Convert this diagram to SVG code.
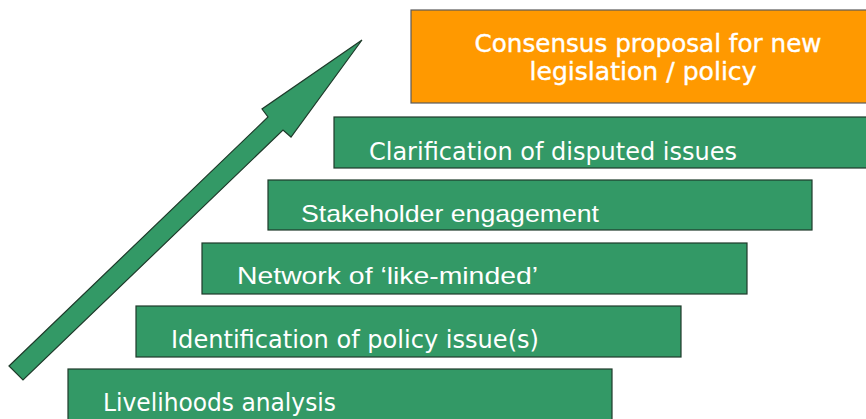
<svg xmlns="http://www.w3.org/2000/svg" width="866" height="419" viewBox="0 0 866 419">
  <style>
    .step { fill: #339966; stroke: #1e3a2a; stroke-width: 1.2; }
    .goal { fill: #ff9900; stroke: #5a5a5a; stroke-width: 1.2; }
    .lbl { fill: #ffffff; font-family: "DejaVu Sans", Verdana, sans-serif; font-size: 24px; }
    .lbl2 { fill: #ffffff; font-family: "Liberation Sans", Arial, sans-serif; font-size: 24px; }
    .goal-lbl { fill: #ffffff; font-family: "DejaVu Sans", Verdana, sans-serif; font-size: 25px; text-anchor: middle; stroke: #ffffff; stroke-width: 0.4; }
  </style>
  <defs>
    <clipPath id="clip-stake"><rect x="268" y="180" width="544" height="50"/></clipPath>
  </defs>
  <rect width="866" height="419" fill="#ffffff"/>

  <g id="connectors">
    <!-- rising progress arrow -->
    <polygon points="9,366 268,117 262,109 362,40 291,137 283,130 23,380" fill="#339966" stroke="#1e3a2a" stroke-width="1.2" stroke-linejoin="miter"/>
  </g>

  <g id="step-livelihoods">
    <rect class="step" x="68" y="369" width="544" height="56"/>
    <text class="lbl" x="103" y="411" textLength="233" lengthAdjust="spacingAndGlyphs">Livelihoods analysis</text>
  </g>

  <g id="step-identification">
    <rect class="step" x="136" y="306" width="545" height="51"/>
    <text class="lbl" x="171" y="348" textLength="368" lengthAdjust="spacingAndGlyphs">Identification of policy issue(s)</text>
  </g>

  <g id="step-network">
    <rect class="step" x="202" y="243" width="545" height="51"/>
    <text class="lbl2" x="237" y="284" textLength="301" lengthAdjust="spacingAndGlyphs">Network of ‘like-minded’</text>
  </g>

  <g id="step-stakeholder">
    <rect class="step" x="268" y="180" width="544" height="50"/>
    <text class="lbl2" x="301" y="222" textLength="298" lengthAdjust="spacingAndGlyphs" clip-path="url(#clip-stake)">Stakeholder engagement</text>
  </g>

  <g id="step-clarification">
    <rect class="step" x="334" y="117" width="540" height="51"/>
    <text class="lbl" x="369" y="160" textLength="368" lengthAdjust="spacingAndGlyphs">Clarification of disputed issues</text>
  </g>

  <g id="goal-consensus">
    <rect class="goal" x="411" y="10" width="460" height="93"/>
    <text class="goal-lbl" x="648" y="52" textLength="347" lengthAdjust="spacingAndGlyphs">Consensus proposal for new</text>
    <text class="goal-lbl" x="643" y="80" textLength="227" lengthAdjust="spacingAndGlyphs">legislation / policy</text>
  </g>
</svg>
